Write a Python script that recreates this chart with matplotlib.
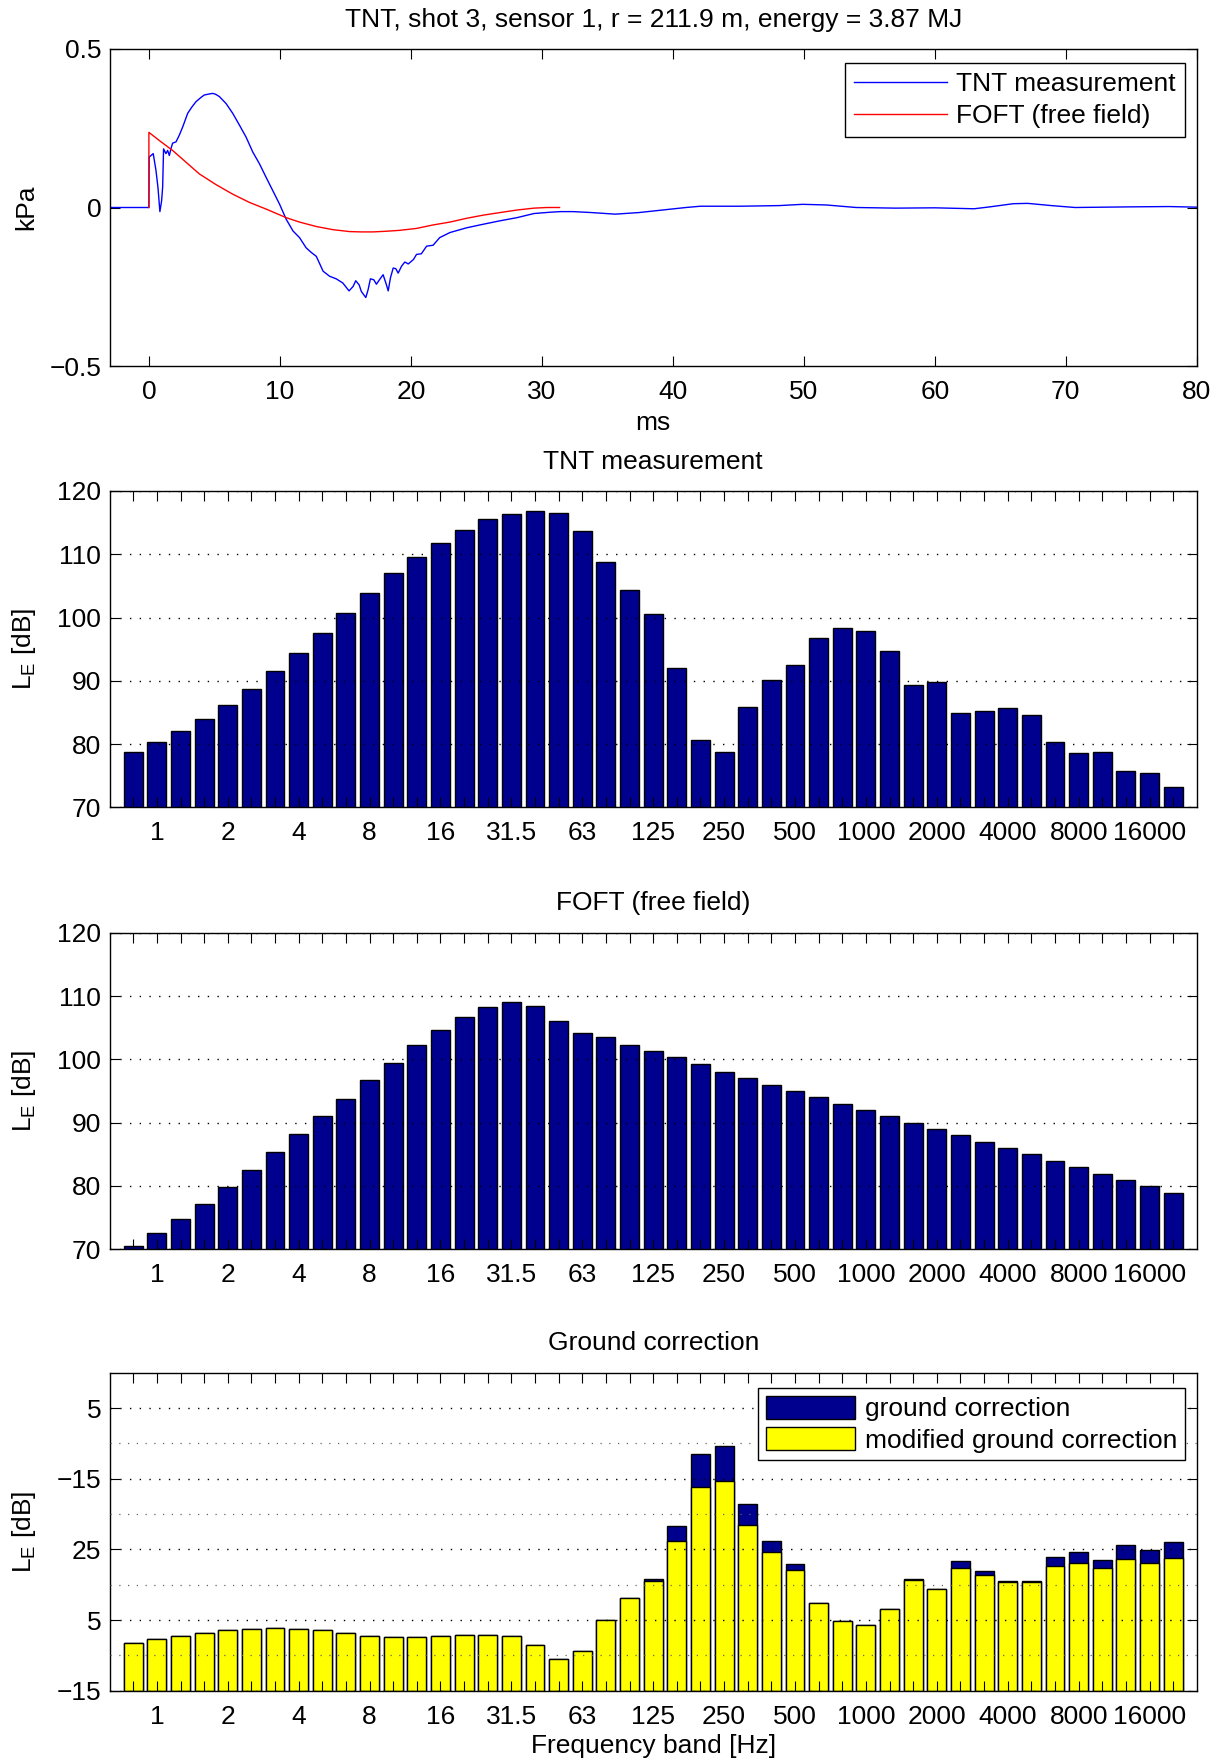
import numpy as np
import matplotlib
matplotlib.use('Agg')
import matplotlib.pyplot as plt
from matplotlib.ticker import FixedLocator

plt.rcParams['font.family'] = ['Liberation Sans', 'DejaVu Sans']
plt.rcParams['mathtext.fontset'] = 'custom'
plt.rcParams['mathtext.rm'] = 'Liberation Sans'
plt.rcParams['font.size'] = 19
plt.rcParams['axes.titlesize'] = 19

# ---- pressure time series (ms, kPa) ----
tnt_t = [-3.0, 0.0, 0.02, 0.33, 0.54, 0.69, 0.84, 0.97, 1.05, 1.12, 1.3, 1.43, 1.56, 1.68,
         1.81, 2.07, 2.32, 2.58, 2.96, 3.3, 3.6, 4.0, 4.23, 4.6, 4.87, 5.1, 5.38, 5.89,
         6.4, 6.91, 7.42, 7.93, 8.44, 8.95, 9.46, 9.97, 10.48, 11.0, 11.5, 12.0, 12.4,
         12.78, 13.3, 13.8, 14.3, 14.8, 15.28, 15.59, 15.79, 16.05, 16.22, 16.56, 16.73,
         16.91, 17.17, 17.37, 17.6, 17.88, 18.09, 18.27, 18.44, 18.65, 18.85, 19.03,
         19.29, 19.54, 19.8, 20.2, 20.43, 20.8, 21.2, 21.7, 22.2, 22.98, 24.26, 25.5,
         26.8, 28.1, 29.4, 30.6, 31.4, 32.4, 33.8, 35.6, 37.4, 39.2, 41.0, 42.1, 45.1,
         48.1, 49.9, 51.7, 54.0, 57.0, 60.0, 63.0, 64.2, 66.0, 67.1, 68.9, 70.7, 74.9,
         77.9, 80.0]
tnt_p = [0.0, 0.0, 0.159, 0.17, 0.117, 0.064, -0.013, 0.021, 0.064, 0.185, 0.17, 0.18,
         0.164, 0.185, 0.203, 0.207, 0.228, 0.254, 0.297, 0.318, 0.334, 0.348, 0.355,
         0.358, 0.36, 0.357, 0.35, 0.328, 0.297, 0.26, 0.222, 0.175, 0.138, 0.095,
         0.053, 0.011, -0.037, -0.074, -0.095, -0.127, -0.142, -0.154, -0.201, -0.217,
         -0.225, -0.238, -0.263, -0.249, -0.231, -0.244, -0.265, -0.284, -0.26, -0.225,
         -0.228, -0.242, -0.228, -0.212, -0.238, -0.263, -0.222, -0.191, -0.193, -0.207,
         -0.185, -0.172, -0.178, -0.164, -0.148, -0.146, -0.122, -0.119, -0.095, -0.079,
         -0.064, -0.053, -0.042, -0.032, -0.019, -0.015, -0.013, -0.013, -0.016, -0.021,
         -0.016, -0.008, 0.0, 0.004, 0.004, 0.006, 0.01, 0.008, 0.0, -0.002, -0.001,
         -0.004, 0.002, 0.012, 0.013, 0.006, 0.0, 0.002, 0.003, 0.001]

foft_t = [0.0, 0.0, 0.9, 1.81, 2.83, 3.85, 5.13, 6.4, 7.68, 8.95, 10.48, 11.5, 12.78,
          14.06, 15.33, 16.2, 17.1, 18.1, 19.16, 20.43, 21.7, 22.98, 24.26, 25.54, 26.8,
          28.09, 29.4, 30.4, 31.35]
foft_p = [0.0, 0.237, 0.208, 0.18, 0.143, 0.106, 0.072, 0.042, 0.016, -0.005, -0.032,
          -0.046, -0.06, -0.07, -0.076, -0.077, -0.077, -0.075, -0.072, -0.066, -0.055,
          -0.046, -0.034, -0.024, -0.016, -0.008, -0.002, 0.0, 0.0]

# ---- third-octave band levels ----
band_labels = ['0.8', '1', '1.25', '1.6', '2', '2.5', '3.15', '4', '5', '6.3', '8', '10',
               '12.5', '16', '20', '25', '31.5', '40', '50', '63', '80', '100', '125',
               '160', '200', '250', '315', '400', '500', '630', '800', '1000', '1250',
               '1600', '2000', '2500', '3150', '4000', '5000', '6300', '8000', '10000',
               '12500', '16000', '20000']
shown_labels = ['1', '2', '4', '8', '16', '31.5', '63', '125', '250', '500', '1000',
                '2000', '4000', '8000', '16000']

tnt_LE = [78.8, 80.3, 82.1, 84.0, 86.2, 88.7, 91.5, 94.4, 97.5, 100.7, 103.8, 107.0,
          109.6, 111.8, 113.8, 115.5, 116.3, 116.9, 116.5, 113.6, 108.7, 104.3, 100.5,
          92.0, 80.7, 78.7, 85.9, 90.1, 92.5, 96.8, 98.3, 97.8, 94.7, 89.4, 89.8, 84.9,
          85.3, 85.7, 84.6, 80.3, 78.6, 78.7, 75.7, 75.5, 73.2]

foft_LE = [70.6, 72.6, 74.8, 77.2, 79.8, 82.6, 85.3, 88.2, 91.0, 93.8, 96.7, 99.5, 102.2,
           104.6, 106.7, 108.3, 109.1, 108.4, 106.0, 104.2, 103.6, 102.3, 101.3, 100.3,
           99.3, 98.0, 97.0, 96.0, 95.0, 94.0, 93.0, 92.0, 91.0, 90.0, 89.0, 88.0, 87.0,
           86.0, 85.0, 84.0, 83.0, 81.9, 81.0, 80.0, 78.9]

ground_corr = [-8.25, -7.73, -7.3, -6.83, -6.45, -6.21, -6.16, -6.26, -6.45, -6.88, -7.21,
               -7.45, -7.45, -7.26, -7.07, -7.16, -7.3, -8.54, -10.53, -9.44, -5.0, -1.94,
               0.87, 8.37, 18.54, 19.58, 11.37, 6.24, 2.86, -2.6, -5.07, -5.64, -3.5, 0.87,
               -0.65, 3.34, 1.91, 0.49, 0.58, 3.86, 4.62, 3.53, 5.62, 4.86, 6.05]
mod_ground_corr = [-8.25, -7.73, -7.3, -6.83, -6.45, -6.21, -6.16, -6.26, -6.45, -6.88,
                   -7.21, -7.45, -7.45, -7.26, -7.07, -7.16, -7.3, -8.54, -10.53, -9.44,
                   -5.0, -1.94, 0.53, 6.19, 13.84, 14.64, 8.47, 4.62, 2.1, -2.6, -5.07,
                   -5.64, -3.5, 0.63, -0.65, 2.39, 1.34, 0.34, 0.39, 2.58, 3.05, 2.34,
                   3.57, 3.05, 3.72]

gc_ticks = [-15, -5, 5, 15, 25]
gc_ticklabels = ['\u221215', '5', '25', '\u221215', '5']

navy = '#00008F'
W, H = 1221, 1762
fig = plt.figure(figsize=(W / 100, H / 100), dpi=100)

left = 109.6 / W
width = 1087.2 / W


def make_ax(top_px, bottom_px):
    return fig.add_axes([left, 1 - bottom_px / H, width, (bottom_px - top_px) / H])


def style(ax):
    ax.tick_params(direction='in', top=True, right=True, length=7, width=0.8)
    ax.tick_params(axis='x', pad=10)
    ax.tick_params(axis='y', pad=6)
    for s in ax.spines.values():
        s.set_linewidth(1.0)


def dotted_grid(ax, which='major'):
    ax.yaxis.grid(True, which=which, linestyle=(0, (1, 6)), color='black', linewidth=1.0)
    ax.set_axisbelow(False)


# ---- top: pressure signature ----
ax1 = make_ax(49, 366)
ax1.plot(tnt_t, tnt_p, color='#0000FF', lw=1.0, label='TNT measurement')
ax1.plot(foft_t, foft_p, color='#FF0000', lw=1.0, label='FOFT (free field)')
ax1.set_xlim(-3, 80)
ax1.set_ylim(-0.5, 0.5)
ax1.set_xticks(np.arange(0, 81, 10))
ax1.set_yticks([-0.5, 0, 0.5])
ax1.set_yticklabels(['\u22120.5', '0', '0.5'])
ax1.set_xlabel('ms', labelpad=5)
ax1.set_ylabel('kPa')
ax1.yaxis.set_label_coords(-0.066, 0.5)
ax1.set_title('TNT, shot 3, sensor 1, r = 211.9 m, energy = 3.87 MJ', pad=16)
style(ax1)
leg = ax1.legend(loc='upper right', bbox_to_anchor=(0.989, 0.956), fancybox=False,
                 edgecolor='black', framealpha=1, handlelength=3.5, borderpad=0.35,
                 labelspacing=0.3, handletextpad=0.35, borderaxespad=0)
leg.get_frame().set_linewidth(1.0)

# ---- band spectra ----
x = np.arange(1, len(band_labels) + 1)
xlabels = [b if b in shown_labels else '' for b in band_labels]
ylab = r'$\mathregular{L_E}$ [dB]'


def band_axis(ax, title):
    ax.set_xlim(0, len(band_labels) + 1)
    ax.set_xticks(x)
    ax.set_xticklabels(xlabels)
    ax.set_title(title, pad=16)
    ax.set_ylabel(ylab)
    ax.yaxis.set_label_coords(-0.066, 0.5)
    style(ax)


ax2 = make_ax(491, 807.3)
ax2.bar(x, tnt_LE, width=0.8, color=navy, edgecolor='black', linewidth=1.0)
ax2.set_ylim(70, 120)
ax2.set_yticks(np.arange(70, 121, 10))
dotted_grid(ax2)
band_axis(ax2, 'TNT measurement')

ax3 = make_ax(932.7, 1249.3)
ax3.bar(x, foft_LE, width=0.8, color=navy, edgecolor='black', linewidth=1.0)
ax3.set_ylim(70, 120)
ax3.set_yticks(np.arange(70, 121, 10))
dotted_grid(ax3)
band_axis(ax3, 'FOFT (free field)')

ax4 = make_ax(1372.7, 1690.7)
base = gc_ticks[0]
ax4.bar(x, np.array(ground_corr) - base, bottom=base, width=0.8, color=navy,
        edgecolor='black', linewidth=1.0, label='ground correction')
ax4.bar(x, np.array(mod_ground_corr) - base, bottom=base, width=0.8, color='#FFFF00',
        edgecolor='black', linewidth=1.0, label='modified ground correction')
ax4.set_ylim(-15, 30)
ax4.set_yticks(gc_ticks)
ax4.set_yticklabels(gc_ticklabels)
ax4.yaxis.set_minor_locator(FixedLocator([-10, 0, 10, 20]))
ax4.tick_params(which='minor', left=False, right=False)
dotted_grid(ax4, 'major')
ax4.yaxis.grid(True, which='minor', linestyle=(0, (1, 6)), color='#666666', linewidth=0.9)
band_axis(ax4, 'Ground correction')
ax4.set_xlabel('Frequency band [Hz]', labelpad=4)
leg4 = ax4.legend(loc='upper right', bbox_to_anchor=(0.989, 0.953), fancybox=False,
                  edgecolor='black', framealpha=1, handlelength=3.4, handleheight=1.0,
                  borderpad=0.3, labelspacing=0.2, handletextpad=0.35, borderaxespad=0)
leg4.get_frame().set_linewidth(1.0)

fig.savefig('out.png', dpi=100)
